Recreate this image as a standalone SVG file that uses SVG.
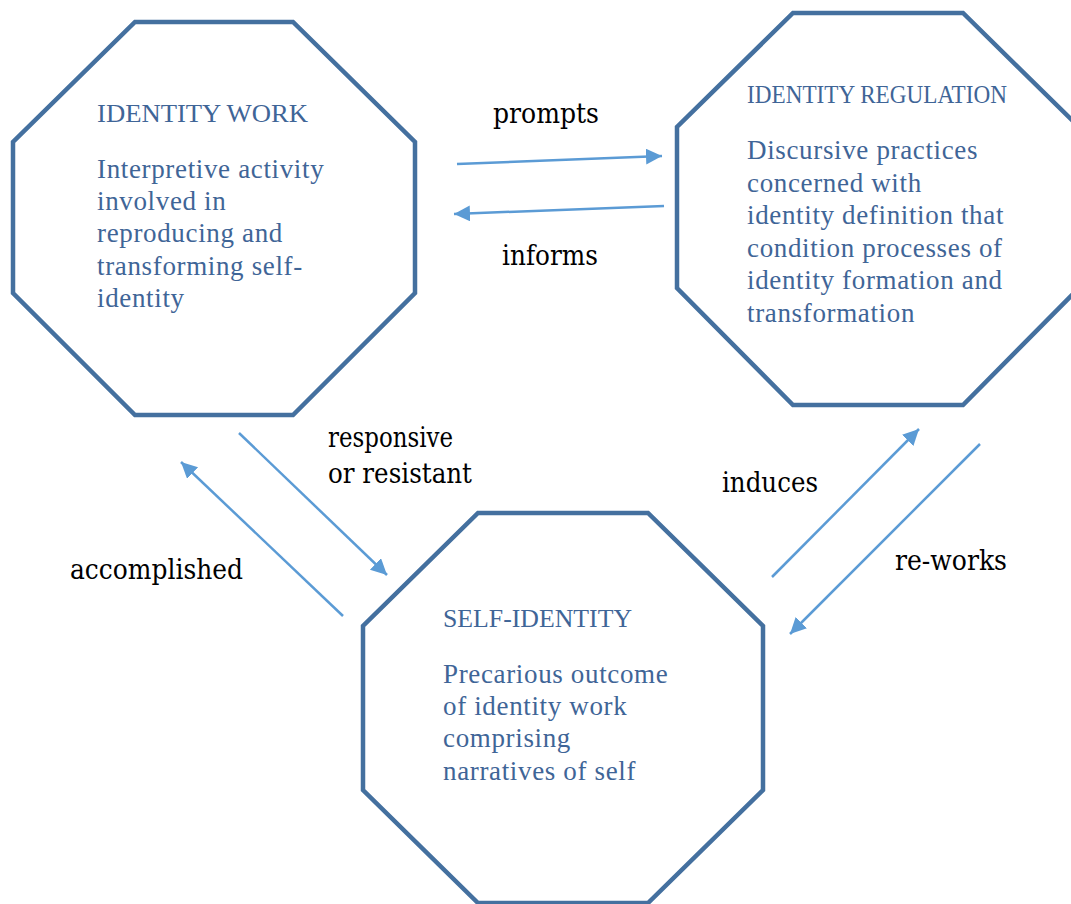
<svg xmlns="http://www.w3.org/2000/svg" width="1071" height="904" viewBox="0 0 1071 904">
  <style>
    .oct { fill: #ffffff; stroke: #44709F; stroke-width: 4.5; stroke-linejoin: miter; }
    .head { font-family: "Liberation Serif", "DejaVu Serif", serif; font-size: 26px; fill: #3F6597; }
    .body { font-family: "Liberation Serif", "DejaVu Serif", serif; font-size: 27px; fill: #3F6597; letter-spacing: 0.65px; }
    .lbl { font-family: "DejaVu Serif", serif; font-size: 27px; fill: #000000; }
    .arrow { stroke: #5B9BD5; stroke-width: 2.5; fill: none; marker-end: url(#head); }
  </style>
  <defs>
    <marker id="head" markerUnits="userSpaceOnUse" markerWidth="18" markerHeight="18" refX="16" refY="8" orient="auto">
      <path d="M0,0 L16,8 L0,16 z" fill="#5B9BD5"/>
    </marker>
  </defs>
  <rect width="1071" height="904" fill="#ffffff"/>

  <!-- Identity work -->
  <g id="identity-work">
    <polygon class="oct" points="135,22 293,22 415,142 415,293 293,415 135,415 13,293 13,142"/>
    <text class="head" x="97" y="122" textLength="211" lengthAdjust="spacingAndGlyphs">IDENTITY WORK</text>
    <text class="body" x="97" y="178">Interpretive activity</text>
    <text class="body" x="97" y="210">involved in</text>
    <text class="body" x="97" y="242">reproducing and</text>
    <text class="body" x="97" y="275">transforming self-</text>
    <text class="body" x="97" y="307">identity</text>
  </g>

  <!-- Identity regulation -->
  <g id="identity-regulation">
    <polygon class="oct" points="793,13 963,13 1079,127 1079,288 963,405 793,405 677,288 677,127"/>
    <text class="head" x="747" y="103" textLength="260" lengthAdjust="spacingAndGlyphs">IDENTITY REGULATION</text>
    <text class="body" x="747" y="159">Discursive practices</text>
    <text class="body" x="747" y="192">concerned with</text>
    <text class="body" x="747" y="224">identity definition that</text>
    <text class="body" x="747" y="257">condition processes of</text>
    <text class="body" x="747" y="289">identity formation and</text>
    <text class="body" x="747" y="322">transformation</text>
  </g>

  <!-- Self-identity -->
  <g id="self-identity">
    <polygon class="oct" points="478,513 648,513 763,626 763,790 648,903 478,903 363,790 363,626"/>
    <text class="head" x="443" y="627" textLength="189" lengthAdjust="spacingAndGlyphs">SELF-IDENTITY</text>
    <text class="body" x="443" y="683">Precarious outcome</text>
    <text class="body" x="443" y="715">of identity work</text>
    <text class="body" x="443" y="747">comprising</text>
    <text class="body" x="443" y="780">narratives of self</text>
  </g>

  <!-- Connectors -->
  <g id="connectors">
    <line class="arrow" x1="457" y1="164" x2="662" y2="156"/>
    <line class="arrow" x1="664" y1="206" x2="454" y2="214"/>
    <line class="arrow" x1="239" y1="433" x2="387" y2="575"/>
    <line class="arrow" x1="343" y1="616" x2="181" y2="462"/>
    <line class="arrow" x1="772" y1="577" x2="919" y2="429"/>
    <line class="arrow" x1="980" y1="444" x2="790" y2="634"/>
  </g>

  <!-- Connector labels -->
  <g id="labels">
    <text class="lbl" x="493" y="123" textLength="106" lengthAdjust="spacingAndGlyphs">prompts</text>
    <text class="lbl" x="502" y="265" textLength="96" lengthAdjust="spacingAndGlyphs">informs</text>
    <text class="lbl" x="328" y="447" textLength="125" lengthAdjust="spacingAndGlyphs">responsive</text>
    <text class="lbl" x="328" y="483" textLength="144" lengthAdjust="spacingAndGlyphs">or resistant</text>
    <text class="lbl" x="70" y="579" textLength="173" lengthAdjust="spacingAndGlyphs">accomplished</text>
    <text class="lbl" x="722" y="492" textLength="96" lengthAdjust="spacingAndGlyphs">induces</text>
    <text class="lbl" x="895" y="570" textLength="112" lengthAdjust="spacingAndGlyphs">re-works</text>
  </g>
</svg>
